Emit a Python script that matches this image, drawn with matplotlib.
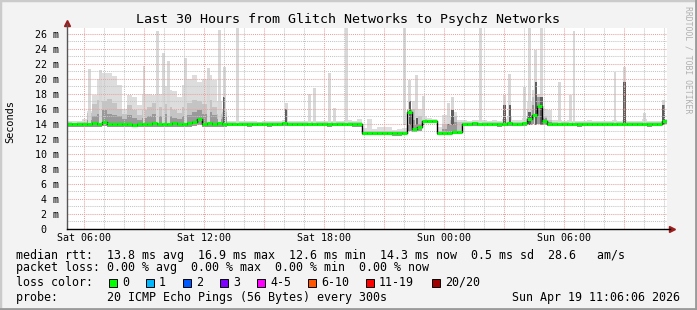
import numpy as np
import matplotlib.pyplot as plt
from matplotlib.patches import Rectangle

# time axis: hours since Sat 00:00, one column = 15 minutes
t_start = 5.15
t_step = 0.25

# median rtt per column (ms)
median_ms = [
    14.0, 13.9, 14.0, 14.0, 14.0, 14.1, 14.0, 14.2, 14.0, 14.0,
    14.0, 14.0, 13.9, 13.8, 13.9, 14.0, 14.0, 14.1, 14.0, 14.0,
    14.0, 14.1, 14.0, 14.0, 14.1, 14.2, 14.6, 14.0, 14.1, 14.0,
    14.1, 14.0, 14.0, 14.0, 14.0, 14.0, 13.9, 14.0, 14.0, 14.0,
    13.9, 14.0, 14.0, 14.1, 14.0, 14.0, 14.0, 14.0, 14.0, 14.0,
    14.0, 14.0, 13.9, 14.0, 14.0, 14.0, 14.0, 13.9, 14.0, 12.8,
    12.8, 12.8, 12.8, 12.8, 12.8, 12.7, 12.7, 12.8, 15.5, 13.3,
    13.6, 14.35, 14.35, 14.35, 12.8, 12.8, 12.8, 12.9, 12.9, 14.0,
    14.0, 14.1, 14.0, 14.0, 14.0, 14.0, 13.9, 14.0, 14.1, 14.0,
    14.0, 14.1, 14.6, 15.2, 16.4, 14.3, 14.0, 14.0, 14.0, 14.0,
    14.0, 14.0, 13.9, 14.0, 14.0, 14.0, 14.0, 14.0, 14.0, 14.0,
    14.0, 14.0, 14.0, 14.0, 14.0, 14.0, 13.9, 14.0, 14.0, 14.3,
]

# smoke: lowest ping, upper envelope, middle band, dark core (ms)
smoke_low = [
    13.6, 13.6, 13.6, 13.6, 13.6, 13.6, 13.6, 13.7, 13.6, 13.6,
    13.6, 13.6, 13.5, 13.5, 13.5, 13.6, 13.6, 13.6, 13.6, 13.6,
    13.6, 13.6, 13.6, 13.6, 13.6, 13.7, 13.8, 13.6, 13.6, 13.6,
    13.6, 13.6, 13.7, 13.7, 13.7, 13.7, 13.6, 13.7, 13.7, 13.7,
    13.6, 13.7, 13.7, 13.7, 13.7, 13.7, 13.7, 13.7, 13.7, 13.7,
    13.7, 13.7, 13.6, 13.7, 13.7, 13.7, 13.7, 13.6, 13.6, 12.5,
    12.5, 12.5, 12.5, 12.5, 12.5, 12.4, 12.4, 12.5, 13.0, 12.9,
    13.0, 14.1, 14.1, 14.1, 12.5, 12.5, 12.5, 12.6, 12.6, 13.7,
    13.7, 13.7, 13.7, 13.7, 13.7, 13.7, 13.6, 13.7, 13.7, 13.7,
    13.7, 13.7, 13.8, 13.9, 13.9, 13.8, 13.7, 13.7, 13.7, 13.7,
    13.7, 13.7, 13.6, 13.7, 13.7, 13.7, 13.7, 13.7, 13.7, 13.7,
    13.7, 13.7, 13.7, 13.7, 13.7, 13.7, 13.6, 13.7, 13.7, 13.9,
]
smoke_top = [
    14.4, 14.3, 14.4, 14.6, 15.7, 17.8, 20.0, 20.8, 20.7, 20.3,
    19.1, 16.0, 17.8, 17.6, 16.5, 18.0, 18.0, 17.8, 18.0, 19.0,
    18.5, 18.3, 17.6, 19.2, 20.0, 20.5, 19.6, 20.0, 20.5, 19.8,
    17.0, 16.0, 14.4, 14.3, 14.4, 14.4, 14.3, 14.3, 14.2, 14.3,
    14.4, 14.3, 14.3, 14.5, 14.4, 14.3, 14.4, 14.3, 14.4, 14.4,
    14.3, 14.3, 14.4, 14.4, 14.3, 14.4, 14.5, 14.4, 14.6, 13.4,
    14.6, 13.3, 13.6, 13.6, 13.5, 13.2, 13.3, 13.4, 16.0, 17.0,
    16.0, 15.0, 14.8, 14.6, 13.5, 15.2, 15.0, 15.5, 14.5, 14.5,
    14.4, 14.5, 14.5, 14.5, 14.4, 14.5, 14.4, 14.6, 15.0, 14.5,
    14.5, 14.8, 17.0, 18.5, 18.0, 16.0, 15.8, 14.5, 14.5, 14.4,
    14.5, 14.4, 14.4, 14.4, 14.5, 14.4, 14.4, 14.4, 14.4, 14.5,
    14.4, 14.5, 14.4, 14.4, 14.4, 14.6, 14.4, 14.4, 14.4, 14.6,
]
smoke_mid = [
    14.2, 14.1, 14.2, 14.2, 15.4, 16.6, 17.2, 17.0, 17.3, 16.8,
    16.0, 15.3, 16.5, 15.8, 15.2, 15.8, 16.2, 16.8, 16.2, 16.6,
    16.2, 15.8, 15.4, 16.2, 16.8, 17.2, 17.0, 16.6, 17.2, 16.2,
    15.3, 15.5, 14.2, 14.2, 14.2, 14.2, 14.2, 14.2, 14.2, 14.2,
    14.2, 14.2, 14.2, 14.2, 14.2, 14.2, 14.2, 14.2, 14.2, 14.2,
    14.2, 14.2, 14.2, 14.2, 14.2, 14.2, 14.2, 14.2, 14.2, 13.0,
    13.0, 13.0, 13.0, 13.0, 13.0, 13.0, 13.0, 13.0, 15.5, 16.0,
    15.0, 14.6, 14.5, 14.5, 13.0, 14.0, 14.5, 15.0, 14.2, 14.2,
    14.2, 14.2, 14.2, 14.2, 14.2, 14.2, 14.2, 14.2, 14.2, 14.2,
    14.2, 14.2, 16.0, 17.5, 17.0, 15.0, 14.5, 14.2, 14.2, 14.2,
    14.2, 14.2, 14.2, 14.2, 14.2, 14.2, 14.2, 14.2, 14.2, 14.2,
    14.2, 14.2, 14.2, 14.2, 14.2, 14.2, 14.2, 14.2, 14.2, 14.2,
]
smoke_core = [
    14.1, 14.1, 14.1, 14.1, 14.5, 15.0, 15.3, 15.8, 15.3, 15.2,
    15.0, 14.6, 15.2, 14.8, 14.5, 14.8, 15.0, 15.3, 15.0, 15.3,
    15.0, 14.8, 14.6, 15.0, 15.2, 15.5, 15.8, 15.3, 15.6, 15.2,
    14.6, 15.0, 14.1, 14.1, 14.1, 14.1, 14.1, 14.1, 14.1, 14.1,
    14.1, 14.1, 14.1, 14.1, 14.1, 14.1, 14.1, 14.1, 14.1, 14.1,
    14.1, 14.1, 14.1, 14.1, 14.1, 14.1, 14.1, 14.1, 14.1, 12.9,
    12.9, 12.9, 12.9, 12.9, 12.9, 12.9, 12.9, 12.9, 15.8, 14.5,
    14.0, 14.4, 14.4, 14.4, 12.9, 13.3, 13.8, 14.2, 13.0, 14.1,
    14.1, 14.1, 14.1, 14.1, 14.1, 14.1, 14.1, 14.1, 14.1, 14.1,
    14.1, 14.1, 15.0, 16.5, 17.5, 14.8, 14.2, 14.1, 14.1, 14.1,
    14.1, 14.1, 14.1, 14.1, 14.1, 14.1, 14.1, 14.1, 14.1, 14.1,
    14.1, 14.1, 14.1, 14.1, 14.1, 14.1, 14.1, 14.1, 14.1, 14.1,
]

# isolated single-sample spikes
spike_hours = [6.30, 6.83, 9.02, 9.68, 10.00, 10.23, 11.08, 12.23, 12.80, 13.03,
               13.68, 16.13, 17.28, 17.53, 18.28, 18.53, 19.13, 22.05, 22.30, 22.65,
               22.98, 24.23, 24.43, 25.85, 27.03, 27.30, 28.03, 28.28, 28.60, 28.88,
               29.78, 30.33, 30.50, 32.55, 33.03, 34.03, 34.98]
spike_top = [21.3, 21.2, 21.7, 26.3, 23.4, 22.3, 22.7, 21.4, 26.5, 21.6,
             26.7, 16.8, 18.0, 18.8, 20.7, 16.1, 26.7, 26.9, 19.8, 20.5,
             17.7, 16.7, 17.5, 26.7, 17.8, 20.6, 18.9, 26.7, 23.8, 26.7,
             19.6, 17.8, 26.3, 20.9, 21.6, 15.4, 17.1]
spike_dark = [14.0, 14.0, 14.0, 14.0, 14.0, 14.0, 14.0, 14.0, 14.0, 17.5,
              14.0, 16.0, 14.0, 14.0, 14.0, 14.0, 14.0, 14.0, 17.0, 14.8,
              14.0, 14.0, 15.8, 14.0, 16.5, 16.5, 14.0, 15.5, 19.5, 17.5,
              14.0, 14.0, 14.0, 14.0, 19.5, 14.0, 16.5]

y_ticks = [0, 2, 4, 6, 8, 10, 12, 14, 16, 18, 20, 22, 24, 26]
y_labels = ['0  ', '2 m', '4 m', '6 m', '8 m', '10 m', '12 m', '14 m', '16 m',
            '18 m', '20 m', '22 m', '24 m', '26 m']
x_ticks = [6, 12, 18, 24, 30]
x_labels = ['Sat 06:00', 'Sat 12:00', 'Sat 18:00', 'Sun 00:00', 'Sun 06:00']

loss_labels = ['0', '1', '2', '3', '4-5', '6-10', '11-19', '20/20']
loss_colors = ['#00ff00', '#00b8ff', '#0059ff', '#7e00ff', '#ff00ff',
               '#ff5500', '#ff0000', '#a10000']

W, H = 697, 310
mono = 'DejaVu Sans Mono'
plt.rcParams['font.family'] = mono

fig = plt.figure(figsize=(W / 100, H / 100), dpi=100)
fig.patch.set_facecolor('#f3f3f3')

# 3d frame round the picture
fig.add_artist(Rectangle((0, 0), 1, 1, transform=fig.transFigure, fill=False,
                         edgecolor='#cbcbcb', linewidth=2.5))
fig.add_artist(plt.Line2D([0, 1], [1 / H, 1 / H], transform=fig.transFigure,
                          color='#9a9a9a', linewidth=2))
fig.add_artist(plt.Line2D([1 - 1 / W, 1 - 1 / W], [0, 1], transform=fig.transFigure,
                          color='#9a9a9a', linewidth=2))

x0, x1 = 66.5, 667
y0, y1 = 228.7, 27.7
ax = fig.add_axes([x0 / W, 1 - y0 / H, (x1 - x0) / W, (y0 - y1) / H])
ax.set_facecolor('white')

t = t_start + t_step * np.arange(len(median_ms) + 1)
def ext(a):
    return np.append(a, a[-1])

ax.fill_between(t, ext(smoke_low), ext(smoke_top), step='post', color='#dddddd', lw=0)
ax.fill_between(t, ext(smoke_low), ext(smoke_mid), step='post', color='#c4c4c4', lw=0)
ax.fill_between(t, ext(smoke_low), ext(smoke_core), step='post', color='#999999', lw=0)

ax.bar(spike_hours, np.array(spike_top) - 13.8, bottom=13.8, width=0.14,
       color='#d8d8d8', linewidth=0)
ax.bar(spike_hours, np.array(spike_dark) - 13.8, bottom=13.8, width=0.11,
       color='#5e5e5e', linewidth=0)

# median: black joins, green level segments
ax.step(t, ext(median_ms), where='post', color='black', lw=1, zorder=3)
ax.hlines(median_ms, t[:-1], t[1:], color='#00ff00', lw=2.2, zorder=4)

ax.set_xlim(t_start, t_start + 30)
ax.set_ylim(0, (y0 - y1) / 7.5)

ax.set_xticks(range(6, 36, 3))
ax.set_xticks(range(6, 36), minor=True)
ax.set_xticklabels([x_labels[x_ticks.index(h)] if h in x_ticks else '' for h in range(6, 36, 3)],
                   fontsize=7.2)
ax.set_yticks(y_ticks)
ax.set_yticks(range(1, 27, 2), minor=True)
ax.set_yticklabels(y_labels, fontsize=7.2)
ax.tick_params(which='both', length=0)
ax.tick_params(axis='y', pad=5.2)
ax.tick_params(axis='x', pad=3)

ax.grid(which='minor', color='#c4c4c4', linestyle=(0, (1, 1)), linewidth=0.75)
ax.grid(which='major', color='#e9a2a2', linestyle=(0, (1, 1)), linewidth=0.75)
ax.set_axisbelow(False)

for s in ax.spines.values():
    s.set_visible(False)

# axes with arrow heads
ax.plot([0, 0], [0, 1.02], transform=ax.transAxes, color='#555555', lw=1, clip_on=False, zorder=5)
ax.plot([0, 1.005], [0, 0], transform=ax.transAxes, color='black', lw=1, clip_on=False, zorder=5)
ax.plot([0], [1.025], marker='^', ms=4, color='#9c1c1c', transform=ax.transAxes, clip_on=False)
ax.plot([1.008], [0], marker='>', ms=4, color='#9c1c1c', transform=ax.transAxes, clip_on=False)

fig.text(0.5, 1 - 19 / H, 'Last 30 Hours from Glitch Networks to Psychz Networks',
         ha='center', va='center', fontsize=9.6)
fig.text(10 / W, 1 - 122 / H, 'Seconds', rotation=90, ha='center', va='center', fontsize=7.4)
fig.text(688 / W, 1 - 60 / H, 'RRDTOOL / TOBI OETIKER', rotation=-90, ha='center', va='center',
         fontsize=5.9, color='#b0b0b0')

fs = 8.4
def put(x, y, s, **kw):
    fig.text(x / W, 1 - y / H, s, va='center', fontsize=fs, **kw)

put(16, 255, 'median rtt:  13.8 ms avg  16.9 ms max  12.6 ms min  14.3 ms now  0.5 ms sd  28.6   am/s')
put(16, 268, 'packet loss: 0.00 % avg  0.00 % max  0.00 % min  0.00 % now')
put(16, 282, 'loss color:')
for x, lab, c in zip([109, 146, 183, 220, 257, 308, 366, 432], loss_labels, loss_colors):
    fig.add_artist(Rectangle((x / W, 1 - 286.5 / H), 8 / W, 8 / H, transform=fig.transFigure,
                             facecolor=c, edgecolor='black', linewidth=0.7))
    put(x + 13, 282, lab)
put(16, 297, 'probe:       20 ICMP Echo Pings (56 Bytes) every 300s')
put(680, 297, 'Sun Apr 19 11:06:06 2026', ha='right')

fig.savefig('out.png', dpi=100, facecolor=fig.get_facecolor())
